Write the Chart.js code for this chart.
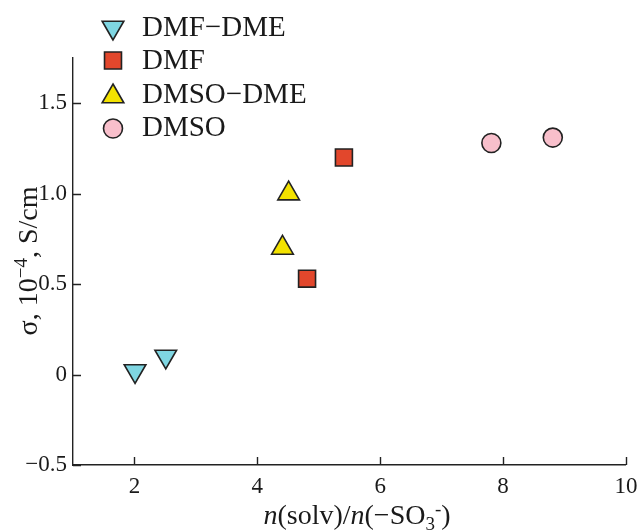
<!DOCTYPE html>
<html><head><meta charset="utf-8">
<script src="https://cdn.jsdelivr.net/npm/chart.js@4/dist/chart.umd.min.js"></script>
<style>html,body{margin:0;padding:0;background:#fff}#wrap{width:640px;height:531px;position:relative}</style>
</head><body><div id="wrap"><canvas id="c" width="640" height="531"></canvas></div>
<script>
// ---- data ----
const seriesNames = ["DMF\u2212DME", "DMF", "DMSO\u2212DME", "DMSO"];
const dmfDmeX = [2.01, 2.51];
const dmfDmeY = [0.02, 0.10];
const dmfX = [4.81, 5.41];
const dmfY = [0.53, 1.20];
const dmsoDmeX = [4.41, 4.51];
const dmsoDmeY = [0.70, 1.00];
const dmsoX = [7.81, 8.81];
const dmsoY = [1.28, 1.31];
const xTicks = [2, 4, 6, 8, 10];
const xTickLabels = ["2", "4", "6", "8", "10"];
const yTicks = [-0.5, 0, 0.5, 1.0, 1.5];
const yTickLabels = ["\u22120.5", "0", "0.5", "1.0", "1.5"];

const SERIF = 'Liberation Serif, Times New Roman, Times, Tinos, serif';
const INK = '#222';

function pts(xs, ys) { return xs.map((x, i) => ({ x: x, y: ys[i] })); }

const datasets = [
  { label: seriesNames[0], data: pts(dmfDmeX, dmfDmeY), pointStyle: 'triangle', rotation: 180, pointRotation: 180, pointRadius: 12.5, backgroundColor: '#7fd6e2' },
  { label: seriesNames[1], data: pts(dmfX, dmfY), pointStyle: 'rect', pointRotation: 0, pointRadius: 12, backgroundColor: '#e2472c' },
  { label: seriesNames[2], data: pts(dmsoDmeX, dmsoDmeY), pointStyle: 'triangle', pointRotation: 0, pointRadius: 12.5, backgroundColor: '#f3e200' },
  { label: seriesNames[3], data: pts(dmsoX, dmsoY), pointStyle: 'circle', pointRotation: 0, pointRadius: 9.5, backgroundColor: '#f8bfcb' }
].map(d => Object.assign(d, { borderColor: INK, pointBorderWidth: 1.6, borderWidth: 1.6, pointHoverRadius: d.pointRadius, showLine: false }));

function drawRich(ctx, parts, x, y) {
  let total = 0;
  parts.forEach(p => { ctx.font = p.font; p.w = ctx.measureText(p.t).width; total += p.w + (p.gap || 0); });
  let cx = x - total / 2;
  ctx.textAlign = 'left';
  ctx.textBaseline = 'alphabetic';
  parts.forEach(p => { ctx.font = p.font; ctx.fillText(p.t, cx, y + (p.dy || 0)); cx += p.w + (p.gap || 0); });
}

const decor = {
  id: 'decor',
  afterDraw(chart) {
    const ctx = chart.ctx;
    const xs = chart.scales.x, ys = chart.scales.y;
    const a = chart.chartArea;
    ctx.save();
    // inward ticks
    ctx.strokeStyle = INK; ctx.lineWidth = 1.4;
    ctx.beginPath();
    xTicks.forEach(v => { const p = Math.round(xs.getPixelForValue(v)) + 0.5; ctx.moveTo(p, a.bottom); ctx.lineTo(p, a.bottom - 8); });
    yTicks.forEach(v => { const p = Math.round(ys.getPixelForValue(v)) + 0.5; ctx.moveTo(a.left, p); ctx.lineTo(a.left + 8, p); });
    ctx.stroke();

    // legend
    const lx = 113, ly0 = 27, lstep = 33.5;
    const mOff = [0.5, 0, 2.5, 1];
    chart.data.datasets.forEach((d, i) => {
      const y = ly0 + i * lstep;
      ctx.fillStyle = d.backgroundColor; ctx.strokeStyle = d.borderColor; ctx.lineWidth = d.pointBorderWidth;
      const opts = { pointStyle: d.pointStyle, rotation: d.pointRotation || 0, radius: d.pointRadius, borderWidth: d.pointBorderWidth };
      Chart.helpers.drawPoint(ctx, opts, lx, y + mOff[i]);
      ctx.fillStyle = '#1a1a1a';
      ctx.font = '29px ' + SERIF;
      ctx.textAlign = 'left'; ctx.textBaseline = 'middle';
      ctx.fillText(d.label, 142, y + 1);
    });

    // axis titles
    ctx.fillStyle = '#1a1a1a';
    const big = '28px ' + SERIF, bigI = 'italic 28px ' + SERIF, small = '19px ' + SERIF;
    drawRich(ctx, [
      { t: 'n', font: bigI }, { t: '(solv)/', font: big }, { t: 'n', font: bigI },
      { t: '(\u2212SO', font: big }, { t: '3', font: small, dy: 6 }, { t: '-', font: small, dy: -9 }, { t: ')', font: big }
    ], 357, 524);

    ctx.save();
    ctx.translate(37, 261);
    ctx.rotate(-Math.PI / 2);
    drawRich(ctx, [
      { t: '\u03c3, 10', font: big }, { t: '\u22124', font: small, dy: -10 }, { t: ', S/cm', font: big }
    ], 0, 0);
    ctx.restore();
    ctx.restore();
  }
};

new Chart(document.getElementById('c'), {
  type: 'scatter',
  data: { datasets: datasets },
  options: {
    responsive: false,
    animation: false,
    events: [],
    layout: { padding: { top: 58, right: 14, left: 0, bottom: 0 } },
    plugins: { legend: { display: false }, tooltip: { enabled: false } },
    scales: {
      x: {
        type: 'linear', min: 1, max: 10,
        afterBuildTicks: s => { s.ticks = xTicks.map(v => ({ value: v })); },
        afterFit: s => { s.height = 66; s.paddingRight = 0; s.paddingLeft = 0; },
        grid: { display: false, drawTicks: false },
        border: { display: true, color: INK, width: 1.4 },
        ticks: { autoSkip: false, maxRotation: 0, padding: 8, color: '#1a1a1a', font: { family: SERIF, size: 23 },
          callback: (v) => { const i = xTicks.indexOf(v); return i >= 0 ? xTickLabels[i] : ''; } }
      },
      y: {
        type: 'linear', min: -0.5, max: 1.75,
        afterBuildTicks: s => { s.ticks = yTicks.map(v => ({ value: v })); },
        afterFit: s => { s.width = 73; s.paddingTop = 0; s.paddingBottom = 0; },
        grid: { display: false, drawTicks: false },
        border: { display: true, color: INK, width: 1.4 },
        ticks: { autoSkip: false, padding: 6, color: '#1a1a1a', font: { family: SERIF, size: 23 },
          callback: (v) => { const i = yTicks.indexOf(v); return i >= 0 ? yTickLabels[i] : ''; } }
      }
    }
  },
  plugins: [decor]
});
</script>
</body></html>
